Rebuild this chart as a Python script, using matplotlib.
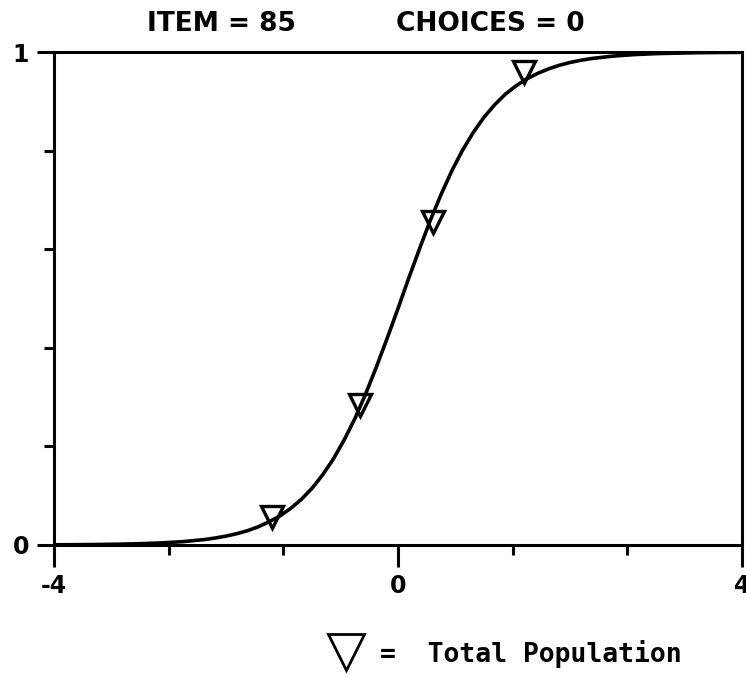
import matplotlib
matplotlib.use("Agg")
import matplotlib.pyplot as plt
from matplotlib.lines import Line2D
from matplotlib.ticker import FixedLocator

# item characteristic curve (ability, prob.)
theta = [-4.0, -3.75, -3.5, -3.25, -3.0, -2.75, -2.5, -2.25, -2.125, -2.0,
         -1.875, -1.75, -1.625, -1.5, -1.375, -1.25, -1.125, -1.0, -0.875,
         -0.75, -0.625, -0.5, -0.375, -0.25, -0.125, 0.0, 0.125, 0.25, 0.375,
         0.5, 0.625, 0.75, 0.875, 1.0, 1.125, 1.25, 1.375, 1.5, 1.625, 1.75,
         1.875, 2.0, 2.125, 2.25, 2.5, 2.75, 3.0, 3.25, 3.5, 3.75, 4.0]
prob = [0.0004, 0.0006, 0.001, 0.0016, 0.0026, 0.0042, 0.0068, 0.011, 0.0142,
        0.018, 0.0229, 0.029, 0.0369, 0.047, 0.0588, 0.074, 0.0925, 0.115,
        0.1427, 0.175, 0.2136, 0.257, 0.3072, 0.362, 0.420, 0.480, 0.5416,
        0.601, 0.6586, 0.711, 0.759, 0.801, 0.837, 0.868, 0.8935, 0.915,
        0.932, 0.946, 0.957, 0.966, 0.9733, 0.979, 0.9835, 0.987, 0.992,
        0.995, 0.997, 0.998, 0.9989, 0.9993, 0.9996]

# observed proportions, total population
obs_x = [-1.465, -0.44, 0.41, 1.465]
obs_y = [0.057, 0.284, 0.655, 0.959]

item_no = "85"
choices = "0"

fig = plt.figure(figsize=(7.46, 6.77), dpi=100)
ax = fig.add_axes([0.0724, 0.195, 0.9223, 0.728])

ax.plot(theta, prob, color="black", lw=2.6, solid_joinstyle="round",
        solid_capstyle="round")
ax.plot(obs_x, obs_y, linestyle="none", marker="v", markersize=16,
        markerfacecolor="none", markeredgecolor="black", markeredgewidth=2.4)

ax.set_xlim(-4, 4)
ax.set_ylim(0, 1)
for s in ax.spines.values():
    s.set_linewidth(2.2)

ax.xaxis.set_major_locator(FixedLocator([-4, 0, 4]))
ax.xaxis.set_minor_locator(FixedLocator([-8 / 3, -4 / 3, 4 / 3, 8 / 3]))
ax.yaxis.set_major_locator(FixedLocator([0, 1]))
ax.yaxis.set_minor_locator(FixedLocator([0.2, 0.4, 0.6, 0.8]))
ax.set_xticklabels(["-4", "0", "4"])
ax.set_yticklabels(["0", "1"])

for t in ax.get_xticklabels() + ax.get_yticklabels():
    t.set_fontfamily("DejaVu Sans")
    t.set_fontweight("bold")
    t.set_fontsize(17)

ax.tick_params(axis="x", which="major", length=16, width=2.2, pad=5, direction="out")
ax.tick_params(axis="x", which="minor", length=7, width=2.2, direction="out")
ax.tick_params(axis="y", which="major", length=12, width=2.2, pad=6, direction="out")
ax.tick_params(axis="y", which="minor", length=7, width=2.2, direction="out")

# title in two pieces
fig.text(221 / 746, 1 - 24 / 677, "ITEM = " + item_no, ha="center", va="center",
         fontsize=19, fontweight="bold", family="DejaVu Sans")
fig.text(490 / 746, 1 - 24 / 677, "CHOICES = " + choices, ha="center", va="center",
         fontsize=19, fontweight="bold", family="DejaVu Sans")

# key below the plot
fig.add_artist(Line2D([346 / 746], [1 - 652 / 677], transform=fig.transFigure,
                      marker="v", markersize=26, markerfacecolor="none",
                      markeredgecolor="black", markeredgewidth=2, linestyle="none"))
fig.text(380 / 746, 1 - 654 / 677, "=  Total Population", ha="left", va="center",
         fontsize=19, fontweight="bold", family="DejaVu Sans Mono")

fig.savefig("out.png", dpi=100)
